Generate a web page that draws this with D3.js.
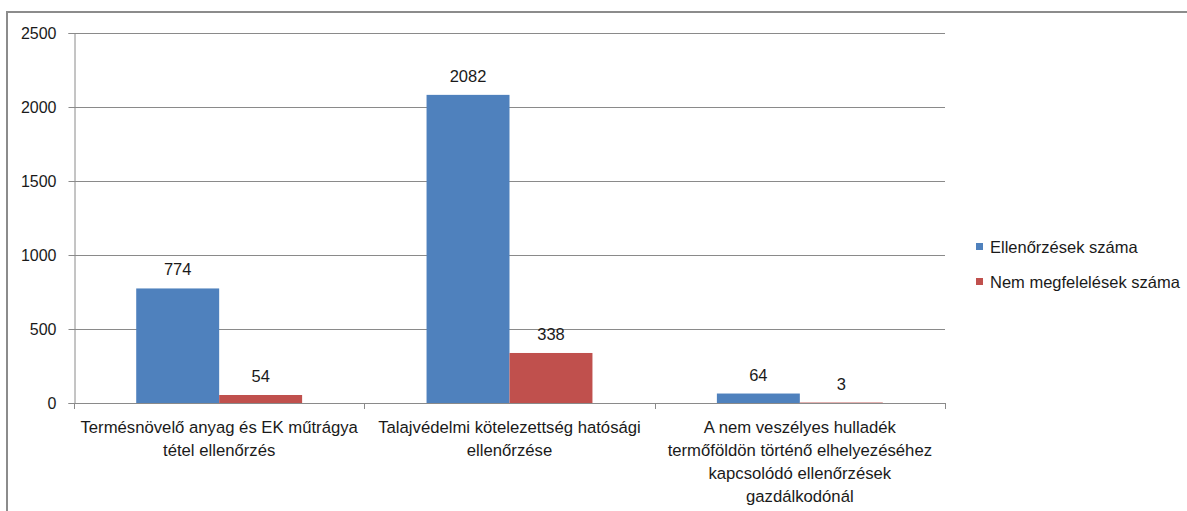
<!DOCTYPE html>
<html><head><meta charset="utf-8">
<script src="https://cdn.jsdelivr.net/npm/d3@7"></script>
<style>body{margin:0;background:#fff}svg{display:block}text{font-family:"Liberation Sans",Arial,sans-serif;fill:#1a1a1a}</style>
</head><body><svg id="c" width="1187" height="511"></svg>
<script>
const categories = [
  ["Termésnövelő anyag és EK műtrágya", "tétel ellenőrzés"],
  ["Talajvédelmi kötelezettség hatósági", "ellenőrzése"],
  ["A nem veszélyes hulladék", "termőföldön történő elhelyezéséhez", "kapcsolódó ellenőrzések", "gazdálkodónál"]
];
const seriesNames = ["Ellenőrzések száma", "Nem megfelelések száma"];
const seriesColors = ["#4F81BD", "#C0504D"];
const ellenorzesek = [774, 2082, 64];
const nemMegfelelesek = [54, 338, 3];
const yTicks = [0, 500, 1000, 1500, 2000, 2500];

const svg = d3.select("#c");
const L = 74, R = 945, T = 33, B = 403;
// chart frame
svg.append("rect").attr("x", 7).attr("y", 12).attr("width", 1200).attr("height", 520)
  .attr("fill", "none").attr("stroke", "#8c8c8c").attr("stroke-width", 2);

const y = d3.scaleLinear().domain([0, 2500]).range([B, T]);
const x0 = d3.scaleBand().domain(d3.range(categories.length)).range([L, R]).padding(0);
const bw = x0.bandwidth();
const barW = bw / 3.5;
const x1 = d3.scaleBand().domain(d3.range(seriesNames.length))
  .range([(bw - 2 * barW) / 2, (bw + 2 * barW) / 2]).padding(0);

// gridlines
svg.append("g").selectAll("line").data(yTicks.slice(1)).join("line")
  .attr("x1", L).attr("x2", R).attr("y1", d => Math.round(y(d)) + 0.5).attr("y2", d => Math.round(y(d)) + 0.5)
  .attr("stroke", "#8a8a8a").attr("stroke-width", 1);

// y axis
const yAxis = svg.append("g").attr("transform", `translate(${L + 0.5},0)`)
  .call(d3.axisLeft(y).tickValues(yTicks).tickSize(6).tickPadding(12).tickFormat(d3.format("d")));
yAxis.select(".domain").attr("stroke", "#8a8a8a");
yAxis.selectAll(".tick line").attr("stroke", "#8a8a8a");
yAxis.selectAll("text").style("font-size", "16px").style("fill", "#1a1a1a").attr("font-family", null);

// bars
const data = categories.map((c, i) => [ellenorzesek[i], nemMegfelelesek[i]]);
const groups = svg.append("g").selectAll("g").data(data).join("g")
  .attr("transform", (d, i) => `translate(${x0(i)},0)`);
groups.selectAll("rect").data(d => d.map((v, s) => ({v, s}))).join("rect")
  .attr("x", d => x1(d.s)).attr("width", x1.bandwidth())
  .attr("y", d => y(d.v)).attr("height", d => B - y(d.v))
  .attr("fill", d => seriesColors[d.s]);
groups.selectAll("text").data(d => d.map((v, s) => ({v, s}))).join("text")
  .attr("x", d => x1(d.s) + x1.bandwidth() / 2).attr("y", d => y(d.v) - 13)
  .attr("text-anchor", "middle").style("font-size", "16.5px").text(d => d.v);

// x axis
svg.append("line").attr("x1", L).attr("x2", R).attr("y1", B + 0.5).attr("y2", B + 0.5)
  .attr("stroke", "#8a8a8a");
const xt = d3.range(categories.length + 1).map(i => i < categories.length ? x0(i) : R);
svg.append("g").selectAll("line").data(xt).join("line")
  .attr("x1", d => Math.round(d) + 0.5).attr("x2", d => Math.round(d) + 0.5)
  .attr("y1", B).attr("y2", B + 6).attr("stroke", "#8a8a8a");

// category labels
svg.append("g").selectAll("text").data(categories).join("text")
  .attr("x", (d, i) => x0(i) + bw / 2).attr("y", B + 30)
  .attr("text-anchor", "middle").style("font-size", "16.7px")
  .each(function(lines) {
    const t = d3.select(this);
    lines.forEach((ln, k) => t.append("tspan").attr("x", t.attr("x")).attr("dy", k ? 23 : 0).text(ln));
  });

// legend
const lg = svg.append("g").selectAll("g").data(seriesNames).join("g")
  .attr("transform", (d, i) => `translate(976,${243 + i * 35})`);
lg.append("rect").attr("width", 7).attr("height", 7).attr("fill", (d, i) => seriesColors[i]);
lg.append("text").attr("x", 14).attr("y", 9.5).style("font-size", "16.5px").text(d => d);
</script></body></html>
